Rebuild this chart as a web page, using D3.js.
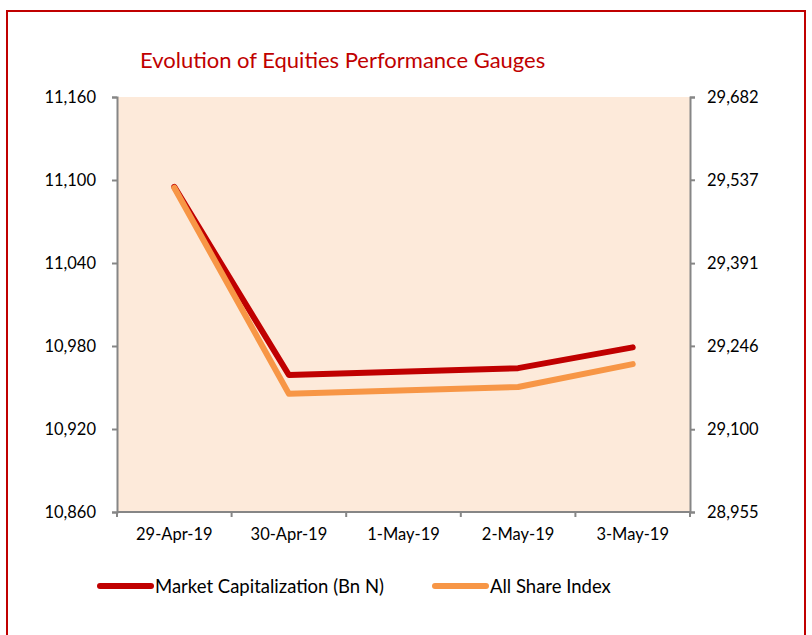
<!doctype html>
<html>
<head>
<meta charset="utf-8"/>
<script src="https://cdnjs.cloudflare.com/ajax/libs/d3/7.8.5/d3.min.js"></script>
<style>
  body { margin: 0; background: #fff; }
  text { font-family: Lato, "Open Sans", sans-serif; fill: #000; }
  .axis path, .axis line { stroke: #868686; stroke-width: 2px; }
  .axis text { font-size: 16.5px; }
</style>
</head>
<body>
<svg width="812" height="635"></svg>
<script>
var dates = ["29-Apr-19", "30-Apr-19", "1-May-19", "2-May-19", "3-May-19"];
// 1-May was a market holiday, no trading values
var marketCap = [11095, 10959, null, 10964, 10979];
var asi = [29523, 29162, null, 29174, 29214];
var leftTicks = [10860, 10920, 10980, 11040, 11100, 11160];
var rightTicks = [28955, 29100, 29246, 29391, 29537, 29682];

var svg = d3.select("svg");
var plot = {left: 117, right: 690, top: 97, bottom: 512};

svg.append("rect")
  .attr("x", 7).attr("y", 11)
  .attr("width", 798).attr("height", 640)
  .attr("fill", "none")
  .attr("stroke", "#C00000")
  .attr("stroke-width", 2);

svg.append("text")
  .attr("x", 140).attr("y", 68)
  .style("font-size", "22px")
  .style("fill", "#C00000")
  .text("Evolution of Equities Performance Gauges");

var x = d3.scaleBand().domain(dates).range([plot.left, plot.right]);
var yL = d3.scaleLinear().domain([10860, 11160]).range([plot.bottom, plot.top]);
var yR = d3.scaleLinear().domain([28955, 29682]).range([plot.bottom, plot.top]);

svg.append("rect")
  .attr("x", plot.left).attr("y", plot.top)
  .attr("width", plot.right - plot.left)
  .attr("height", plot.bottom - plot.top)
  .attr("fill", "#FDEADA");

svg.append("g").attr("class", "axis")
  .attr("transform", "translate(" + plot.left + ",0)")
  .call(d3.axisLeft(yL).tickValues(leftTicks).tickSize(5).tickPadding(16).tickFormat(d3.format(",")));

svg.append("g").attr("class", "axis")
  .attr("transform", "translate(" + plot.right + ",0)")
  .call(d3.axisRight(yR).tickValues(rightTicks).tickSize(5).tickPadding(12).tickFormat(d3.format(",")));

var xAxis = svg.append("g").attr("class", "axis")
  .attr("transform", "translate(0," + plot.bottom + ")")
  .call(d3.axisBottom(x).tickSize(0).tickPadding(16));
xAxis.select(".domain").remove();
xAxis.append("line")
  .attr("x1", plot.left).attr("x2", plot.right)
  .attr("stroke", "#868686").attr("stroke-width", 2);
xAxis.selectAll(".bnd")
  .data(d3.range(dates.length + 1))
  .enter().append("line")
  .attr("x1", i => plot.left + i * x.bandwidth())
  .attr("x2", i => plot.left + i * x.bandwidth())
  .attr("y1", 0).attr("y2", 5)
  .attr("stroke", "#868686").attr("stroke-width", 2);

function drawLine(values, scale, color) {
  var pts = dates.map((d, i) => ({d: d, v: values[i]})).filter(p => p.v != null);
  svg.append("path")
    .datum(pts)
    .attr("fill", "none")
    .attr("stroke", color)
    .attr("stroke-width", 6)
    .attr("stroke-linecap", "round")
    .attr("stroke-linejoin", "round")
    .attr("d", d3.line().x(p => x(p.d) + x.bandwidth() / 2).y(p => scale(p.v)));
}
drawLine(marketCap, yL, "#C00000");
drawLine(asi, yR, "#F79646");

var legend = [
  {name: "Market Capitalization (Bn N)", color: "#C00000", x: 97},
  {name: "All Share Index", color: "#F79646", x: 432}
];
var lg = svg.append("g").selectAll("g").data(legend).enter().append("g")
  .attr("transform", d => "translate(" + d.x + ",586)");
lg.append("line")
  .attr("x1", 3).attr("x2", 54)
  .attr("stroke", d => d.color)
  .attr("stroke-width", 6)
  .attr("stroke-linecap", "round");
lg.append("text")
  .attr("x", 58).attr("y", 6.5)
  .style("font-size", "18.5px")
  .text(d => d.name);
</script>
</body>
</html>
